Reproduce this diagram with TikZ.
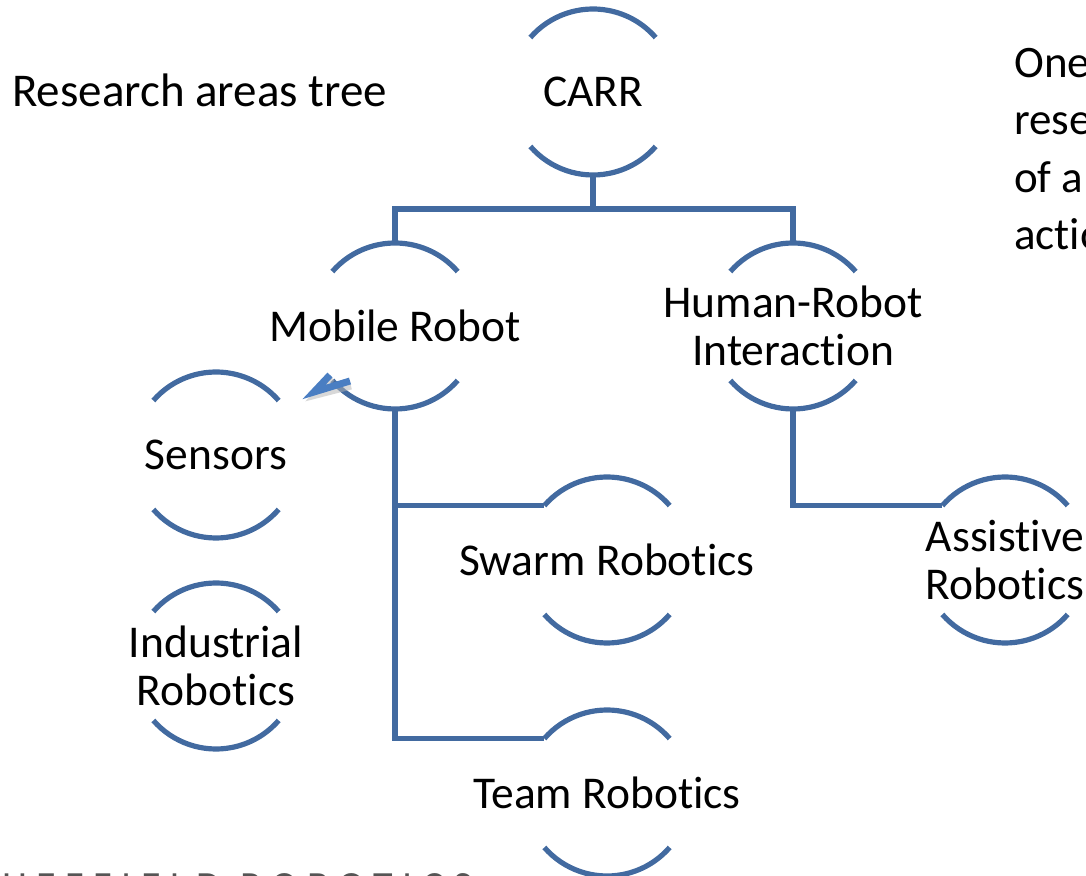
\documentclass[tikz,border=0pt]{standalone}
\usepackage{fontspec}
\setmainfont{Carlito}[Ligatures=NoCommon]
\newfontfamily\footfont{Carlito}[LetterSpace=24]
\usetikzlibrary{calc}
\definecolor{linkblue}{RGB}{66,106,160}
\definecolor{tipblue}{RGB}{74,126,194}
\definecolor{footgray}{RGB}{85,85,85}

% two open arcs around a hub node (top and bottom)
\newcommand\hubrims[1]{%
  \draw[rim] (#1.139) arc[start angle=139,end angle=41,radius=83pt];
  \draw[rim] (#1.221) arc[start angle=221,end angle=319,radius=83pt];}

\begin{document}
\begin{tikzpicture}[x=1pt,y=1pt,
  hub/.style={circle,minimum size=166pt,inner sep=0pt,outer sep=0pt},
  rim/.style={draw=linkblue,line width=5.2pt},
  link/.style={draw=linkblue,line width=5.2pt},
  lbl/.style={font=\fontsize{45.5}{48}\selectfont,inner sep=0pt,align=center,text=black},
  side/.style={font=\fontsize{45}{57.5}\selectfont,inner sep=0pt,anchor=base west,text=black},
]
\useasboundingbox (0,0) rectangle (1086,875);
\clip (0,0) rectangle (1086,875);

% hubs
\node[hub] (carr)   at (593,783) {};
\node[hub] (mobile) at (395,549) {};
\node[hub] (hri)    at (793,549) {};
\node[hub] (sens)   at (216,420) {};
\node[hub] (indus)  at (216,209) {};
\node[hub] (swarm)  at (607,315) {};
\node[hub] (team)   at (607,82) {};
\node[hub] (assist) at (1005,315) {};

\foreach \h in {carr,mobile,hri,sens,indus,swarm,team,assist}{\hubrims{\h}}

% labels
\node[lbl] (carrT)   at (carr)   {CARR};
\node[lbl] (mobileT) at (mobile) {Mobile Robot};
\node[lbl] (hriT)    at (hri)    {Human-Robot\\Interaction};
\node[lbl] (sensT)   at (sens)   {Sensors};
\node[lbl] (indusT)  at (indus)  {Industrial\\Robotics};
\node[lbl] (swarmT)  at (swarm)  {Swarm Robotics};
\node[lbl] (teamT)   at (team)   {Team Robotics};
\node[lbl] (assistT) at (assist) {Assistive\\Robotics};

% tree connectors
\coordinate (busL) at (395,666);
\coordinate (busR) at (793,666);
\draw[link] (carr.south) -- (carr.south |- busL);
\draw[link] ([xshift=-2.6pt]busL) -- ([xshift=2.6pt]busR);
\draw[link] (busL) -- (mobile.north);
\draw[link] (busR) -- (hri.north);
\draw[link] (mobile.south) |- (swarm.139);
\draw[link] (mobile.south) |- (team.139);
\draw[link] (hri.south) |- (assist.139);

% small arrowhead at the lower left of the mobile hub
\coordinate (tip) at (314,483);
\draw[draw=black!30,line width=7pt,opacity=0.5]
  ($(tip)+(18,14)$) -- ($(tip)+(2,-3)$) -- ($(tip)+(37,6)$);
\draw[draw=tipblue,line width=7pt,line join=miter]
  ($(tip)+(16,17)$) -- (tip) -- ($(tip)+(36,11)$);

% title and side text
\node[lbl,font=\fontsize{47}{50}\selectfont,anchor=base west] (title) at (12,768) {Research areas tree};
\node[side] (s1) at (1014,797) {One};
\node[side] (s2) at (1014,740) {research};
\node[side] (s3) at (1014,682) {of a};
\node[side] (s4) at (1014,625) {action};

% footer
\node[anchor=north east,inner sep=0pt,text=footgray,font=\footfont\fontsize{40}{40}\selectfont]
  (foot) at (472,1.5) {SHEFFIELD ROBOTICS};
\end{tikzpicture}
\end{document}
